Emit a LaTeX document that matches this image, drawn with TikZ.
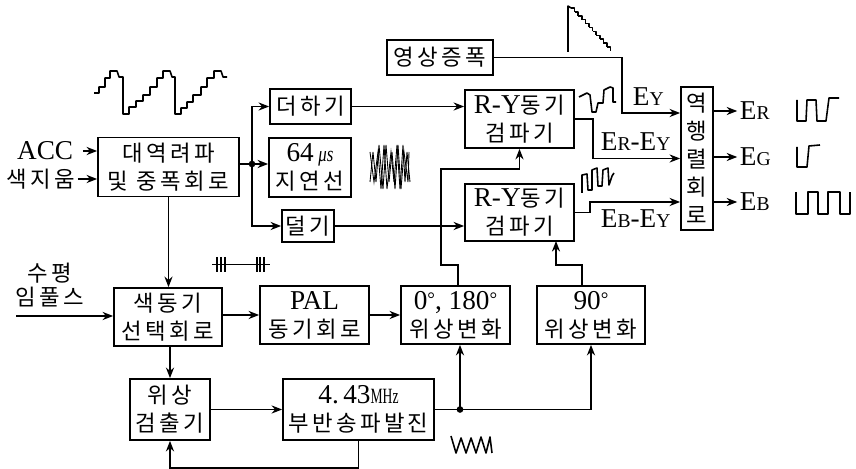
\documentclass[tikz,border=0pt]{standalone}
\usepackage{fontspec}
\setmainfont{Liberation Serif}
\newfontfamily\krfont[Scale=0.82,LetterSpace=15]{Noto Sans CJK KR}
\newcommand{\kr}[1]{{\krfont #1}}
\newcommand{\subE}[1]{E\scalebox{.72}{#1}}
\usetikzlibrary{arrows.meta}
\tikzset{
  blockbox/.style={draw,line width=1pt,align=center,inner sep=0pt,font=\fontsize{15.5}{16}\selectfont},
  textlabel/.style={align=center,inner sep=0pt,font=\fontsize{15.5}{15}\selectfont},
  wave/.style={line width=0.9pt,line join=round},
  fine/.style={line width=0.5pt},
  joint/.style={circle,fill,inner sep=0pt,minimum size=3.8pt}
}
\begin{document}
\begin{tikzpicture}[x=0.02cm,y=-0.02cm,>={Stealth[length=6pt,width=4.6pt]},line width=1pt]
\useasboundingbox (0,0) rectangle (856,469);
\node[blockbox,minimum width=2.12cm,minimum height=0.70cm] (video) at (440,57.5) {\kr{영상증폭}};
\node[blockbox,minimum width=2.82cm,minimum height=1.18cm] (filt) at (168.5,167) {\kr{대역려파}\\\kr{및 중폭회로}};
\node[blockbox,minimum width=1.62cm,minimum height=0.70cm] (addbox) at (310.5,106.5) {\kr{더하기}};
\node[blockbox,minimum width=1.64cm,minimum height=1.18cm] (delay) at (310,167.5) {64\,\scalebox{.62}[.8]{\itshape μs}\\\kr{지연선}};
\node[blockbox,minimum width=1.04cm,minimum height=0.64cm] (subbox) at (308,226) {\kr{덜기}};
\node[blockbox,minimum width=2.18cm,minimum height=1.16cm] (ryA) at (519.5,119) {R-Y\kr{동기}\\\kr{검파기}};
\node[blockbox,minimum width=2.18cm,minimum height=1.14cm] (ryB) at (519.5,212.5) {R-Y\kr{동기}\\\kr{검파기}};
\node[blockbox,minimum width=0.64cm,minimum height=2.86cm] (matrix) at (697,158.5) {\kr{역}\\\kr{행}\\\kr{렬}\\\kr{회}\\\kr{로}};
\node[blockbox,minimum width=2.16cm,minimum height=1.16cm] (sel) at (168,317) {\kr{색동기}\\\kr{선택회로}};
\node[blockbox,minimum width=2.18cm,minimum height=1.16cm] (pal) at (314.5,315) {PAL\\\kr{동기회로}};
\node[blockbox,minimum width=2.18cm,minimum height=1.16cm] (phasezero) at (455.5,315) {0\raisebox{2pt}{\scalebox{.7}{°}}, 180\raisebox{2pt}{\scalebox{.7}{°}}\\\kr{위상변화}};
\node[blockbox,minimum width=2.16cm,minimum height=1.16cm] (phaseninety) at (591,315) {90\raisebox{2pt}{\scalebox{.7}{°}}\\\kr{위상변화}};
\node[blockbox,minimum width=1.60cm,minimum height=1.22cm] (det) at (170,409.5) {\kr{위상}\\\kr{검출기}};
\node[blockbox,minimum width=3.02cm,minimum height=1.22cm] (osc) at (358.5,409.5) {4.\,43\scalebox{.5}[.8]{MHz}\\\kr{부반송파발진}};

\node[textlabel,anchor=east] (acc) at (74,151) {ACC};
\node[textlabel,anchor=east] (erase) at (76,179) {\kr{색지움}};
\node[textlabel,text width=2cm] (hpulse) at (50,285) {\kr{수평}\\[-1.5pt]\kr{임풀스}};
\node[textlabel,anchor=west] (ey) at (632,97) {\subE{Y}};
\node[textlabel,anchor=west] (ery) at (600,142) {\subE{R}-\subE{Y}};
\node[textlabel,anchor=west] (eby) at (600,219) {\subE{B}-\subE{Y}};
\node[textlabel,anchor=west] (er) at (739,111) {\subE{R}};
\node[textlabel,anchor=west] (eg) at (739,157) {\subE{G}};
\node[textlabel,anchor=west] (eb) at (739,202) {\subE{B}};

\coordinate (split) at (252,164);
\coordinate (tap) at (460,409.5);
\coordinate (hin) at (16,316);
\coordinate (upzero) at (458,265);
\coordinate (upninety) at (582,265);
\coordinate (inninety) at (556,241);
\coordinate (eyin) at (622,113);
\coordinate (ebin) at (590,202);

\draw[->,shorten <=5pt] (acc.east) -- (filt.west |- acc.east);
\draw[->,shorten <=1pt] (erase.east) -- (filt.west |- erase.east);
\draw[->] (filt.east |- split) -- (delay.west |- split);
\draw[->] (split) |- (addbox.west);
\draw[->] (split) |- (subbox.west);
\draw[->] (addbox.east) -- (ryA.west |- addbox.east);
\draw[->] (subbox.east) -- (ryB.west |- subbox.east);
\draw[->] (filt.south) -- (sel.north -| filt.south);
\draw[->] (hin) -- (sel.west |- hin);
\draw[->] (sel.east |- pal.west) -- (pal.west);
\draw[->] (pal.east) -- (phasezero.west);
\draw[->] (det.north |- sel.south) -- (det.north);
\draw[->] (det.east) -- (osc.west);
\draw[->] (osc.south) -- ++(0,27.5) -| (det.south);
\draw[->] (osc.east) -| (phaseninety.south);
\draw[->] (tap) -- (tap |- phasezero.south);
\draw[->] (upzero |- phasezero.north) -- (upzero) -| (441,169) -| (ryA.south);
\draw[->] (upninety |- phaseninety.north) -- (upninety) -| (inninety);
\draw[->] (video.east) -| (eyin) -- (matrix.west |- eyin);
\draw[->] (ryA.east) -- ++(18,0) |- (matrix.west);
\draw[->] (ryB.east) -| (ebin) -- (matrix.west |- ebin);
\draw[->,shorten >=1pt] (matrix.east |- er.west) -- (er.west);
\draw[->,shorten >=1pt] (matrix.east |- eg.west) -- (eg.west);
\draw[->,shorten >=1pt] (matrix.east |- eb.west) -- (eb.west);
\node[joint] (splitdot) at (split) {};
\node[joint] (tapdot) at (tap) {};

\draw[wave] (94,93) -- (99,93) -- (99,87) -- (105,87) -- (105,78) -- (110,78) -- (110,71) -- (117,71) -- (119,77) -- (123,77) -- (123,114) -- (129,114) -- (129,107) -- (136,107) -- (136,101) -- (143,101) -- (143,95) -- (150,95) -- (150,87) -- (157,87) -- (157,78) -- (163,78) -- (163,71) -- (170,71) -- (172,77) -- (175,77) -- (175,114) -- (181,114) -- (181,108) -- (187,108) -- (187,102) -- (193,102) -- (193,95) -- (201,95) -- (201,87) -- (207,87) -- (207,78) -- (214,78) -- (214,71) -- (221,71) -- (223,77) -- (227,77);
\draw[wave] (568,52) -- (568,6) -- (571,8);
\foreach \i in {0,...,10}
  \draw[wave] (571+3.6*\i,8+3.9*\i) -- ++(3.6,0) -- ++(0,3.9);
\draw[wave] (579,97) -- (587,93) -- (590,95) -- (592,112) -- (596,112) -- (598,103) -- (603,103) -- (604,90) -- (610,87) -- (613,88) -- (613,102) -- (616,102);
\draw[wave] (582,193) -- (582,175) -- (587,174) -- (588,190) -- (592,190) -- (592,170) -- (597,168) -- (598,186) -- (602,186) -- (603,170) -- (608,168) -- (609,185) -- (612,176) -- (614,173);
\draw[wave] (797,100) -- (797,121) -- (806,121) -- (807,100) -- (816,100) -- (817,121) -- (826,121) -- (829,98) -- (839,98);
\draw[wave] (797,147) -- (797,167) -- (807,167) -- (809,146) -- (820,145);
\draw[wave] (796,192) -- (796,214) -- (808,214) -- (808,192) -- (818,192) -- (818,214) -- (828,214) -- (828,192) -- (840,192) -- (840,214) -- (850,214) -- (850,192);
\draw[fine] (212,264) -- (270,264);
\foreach \x in {217,221,225,257,260,264}
  \draw[wave] (\x,257) -- (\x,272);
\draw[wave] (451,436) -- (456,453) -- (461,438) -- (466,453) -- (471,438) -- (476,453) -- (481,437) -- (486,453) -- (490,437) -- (492,453);
\draw[fine] (370,152) -- (374,182) -- (378,152) -- (381,189) -- (384,145) -- (387,189) -- (391,152) -- (394,182) -- (397,145) -- (400,189) -- (403,145) -- (405,182) -- (407,152) -- (410,182);
\draw[fine] (370,182) -- (373,152) -- (376,182) -- (379,145) -- (383,189) -- (386,145) -- (389,182) -- (392,152) -- (395,189) -- (398,145) -- (401,189) -- (404,152) -- (408,182) -- (409,152);
\end{tikzpicture}
\end{document}
